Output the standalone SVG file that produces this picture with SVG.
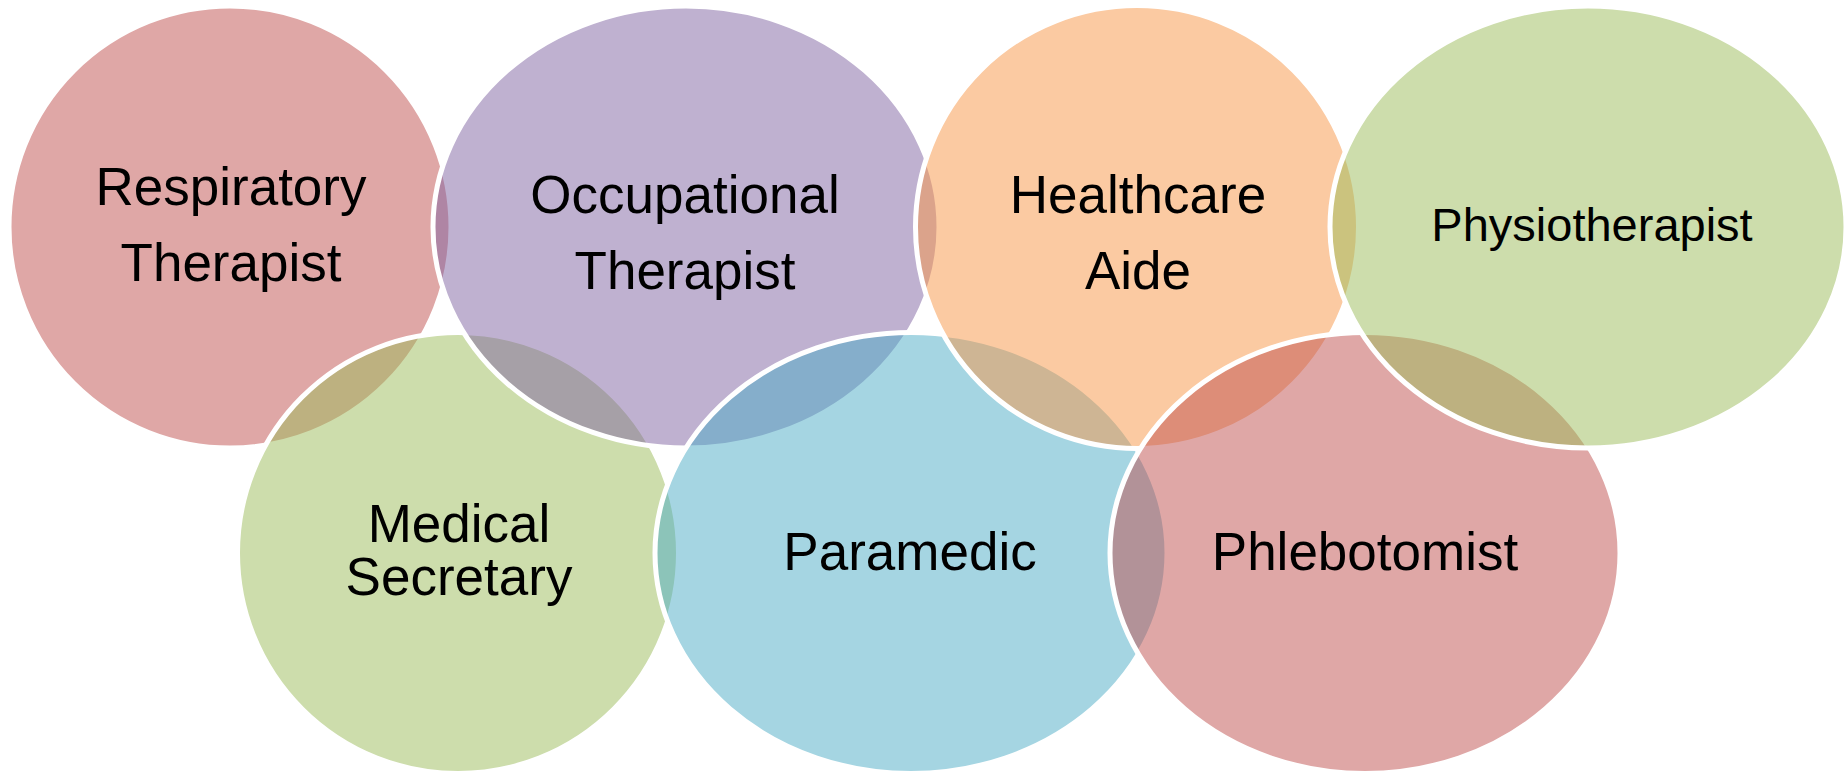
<svg xmlns="http://www.w3.org/2000/svg" width="1845" height="772" viewBox="0 0 1845 772">
<style>
.s{stroke:#FFFFFF;stroke-width:5;fill-opacity:0.5}
.red{fill:#C0504D}.pur{fill:#8064A2}.org{fill:#F79646}.grn{fill:#9BBB59}.aqu{fill:#4BACC6}
.t{font-family:"Liberation Sans",Arial,sans-serif;font-size:53px;fill:#000000;text-anchor:middle}
</style>
<rect width="1845" height="772" fill="#FFFFFF"/>
<g id="respiratory">
<circle class="s red" cx="230" cy="227" r="221"/>
<text class="t" x="231" y="205">Respiratory</text>
<text class="t" x="231" y="281">Therapist</text>
</g>
<g id="medical">
<circle class="s grn" cx="458" cy="553" r="220.5"/>
<text class="t" x="459" y="542">Medical</text>
<text class="t" x="459" y="595">Secretary</text>
</g>
<g id="occupational">
<ellipse class="s pur" cx="686" cy="227" rx="253" ry="221"/>
<text class="t" x="685" y="213">Occupational</text>
<text class="t" x="685" y="289">Therapist</text>
</g>
<g id="paramedic">
<ellipse class="s aqu" cx="911" cy="553" rx="256" ry="220.5"/>
<text class="t" x="910" y="570">Paramedic</text>
</g>
<g id="healthcare">
<circle class="s org" cx="1137" cy="227" r="221.5"/>
<text class="t" x="1138" y="213">Healthcare</text>
<text class="t" x="1138" y="289">Aide</text>
</g>
<g id="phlebotomist">
<ellipse class="s red" cx="1365" cy="553" rx="255" ry="220.5"/>
<text class="t" x="1365" y="570">Phlebotomist</text>
</g>
<g id="physiotherapist">
<ellipse class="s grn" cx="1588" cy="227" rx="258" ry="221"/>
<text class="t" x="1592" y="241" style="font-size:47px">Physiotherapist</text>
</g>
<g id="connectors"/>
</svg>
